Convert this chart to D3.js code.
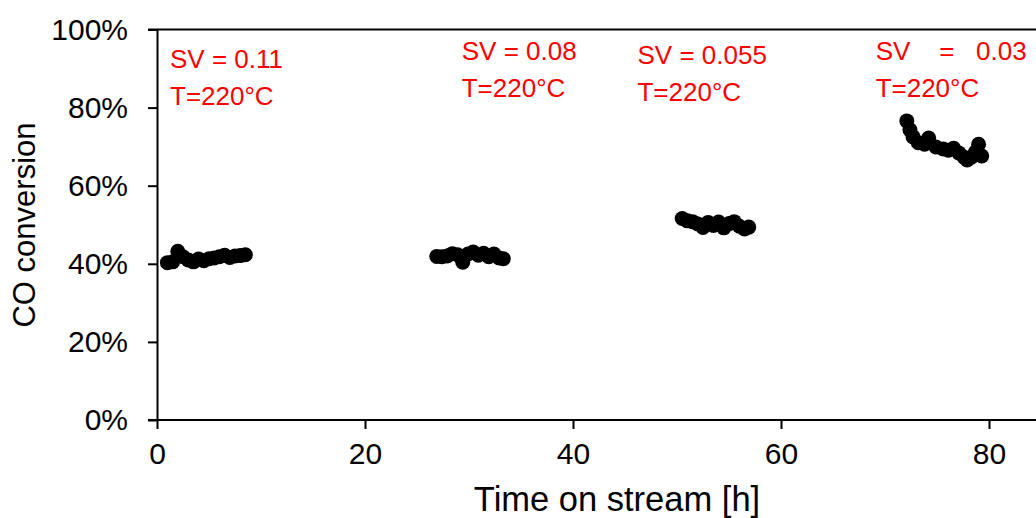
<!DOCTYPE html>
<html>
<head>
<meta charset="utf-8">
<script src="https://cdnjs.cloudflare.com/ajax/libs/d3/7.8.5/d3.min.js"></script>
<style>
  body { margin: 0; background: #fff; }
  svg { display: block; font-family: "Liberation Sans", Arial, sans-serif; }
</style>
</head>
<body>
<div class="chart"></div>
<script>
// data (hours, CO conversion %)
var hours1 = [1.0, 1.5, 2.0, 2.5, 3.0, 3.5, 4.0, 4.5, 5.0, 5.5, 6.0, 6.5, 7.0, 7.5, 8.0, 8.5];
var conv1  = [40.3, 40.5, 43.2, 41.8, 41.0, 40.5, 41.2, 40.8, 41.3, 41.5, 41.8, 42.2, 41.6, 42.0, 42.1, 42.3];

var hours2 = [26.9, 27.4, 27.9, 28.4, 28.9, 29.4, 29.9, 30.4, 30.9, 31.4, 31.9, 32.4, 32.9, 33.3];
var conv2  = [41.9, 41.8, 42.0, 42.6, 42.3, 40.4, 42.5, 43.0, 42.2, 42.7, 41.8, 42.5, 41.5, 41.3];

var hours3 = [50.5, 51.0, 51.5, 52.0, 52.5, 53.0, 53.5, 54.0, 54.5, 55.0, 55.5, 56.0, 56.5, 56.9];
var conv3  = [51.6, 51.0, 50.8, 50.2, 49.3, 50.6, 49.8, 50.7, 49.2, 50.3, 50.8, 49.6, 48.9, 49.4];

var hours4 = [72.1, 72.4, 72.7, 73.2, 73.8, 74.2, 74.9, 75.6, 76.1, 76.6, 77.1, 77.6, 77.9, 78.3, 78.7, 79.0, 79.3];
var conv4  = [76.6, 74.3, 72.5, 71.0, 70.6, 72.2, 69.9, 69.4, 69.1, 69.6, 68.4, 67.3, 66.6, 67.3, 68.6, 70.6, 67.6];

var notes = [
  { x: 1.25, line1: "SV = 0.11",  dy: 0 },
  { x: 29.3, line1: "SV = 0.08",  dy: -8 },
  { x: 46.2, line1: "SV = 0.055", dy: -4 },
  { x: 69.1, line1: "SV    =   0.03", dy: -8 }
];
var note2 = "T=220\u00b0C";

var xTicks = [0, 20, 40, 60, 80];
var yTicks = [0, 20, 40, 60, 80, 100];

var svgWidth = 1036;
var svgHeight = 518;
var margin = { top: 29.5, left: 157, bottom: 98 };
var height = svgHeight - margin.top - margin.bottom;

var svg = d3.select(".chart")
  .append("svg")
  .attr("width", svgWidth)
  .attr("height", svgHeight);

var xScale = d3.scaleLinear().domain([0, 86]).range([margin.left, margin.left + 86 * 10.4]);
var yScale = d3.scaleLinear().domain([0, 100]).range([margin.top + height, margin.top]);

// top border
svg.append("line")
  .attr("x1", margin.left - 9).attr("x2", xScale(86))
  .attr("y1", yScale(100)).attr("y2", yScale(100))
  .attr("stroke", "black").attr("stroke-width", 2);

var xAxis = svg.append("g")
  .attr("transform", `translate(0, ${yScale(0)})`)
  .call(d3.axisBottom(xScale).tickValues(xTicks).tickSize(9).tickPadding(14).tickSizeOuter(0));

var yAxis = svg.append("g")
  .attr("transform", `translate(${margin.left}, 0)`)
  .call(d3.axisLeft(yScale).tickValues(yTicks).tickFormat(d => d + "%").tickSize(9).tickPadding(20).tickSizeOuter(0));

[xAxis, yAxis].forEach(function(g) {
  g.select(".domain").attr("stroke-width", 2);
  g.selectAll(".tick line").attr("stroke-width", 2);
  g.selectAll("text").style("font-size", "30px").attr("fill", "black").style("font-family", "Liberation Sans, Arial, sans-serif");
});
// x axis line starts at the y tick end
xAxis.select(".domain").attr("d", `M${margin.left - 9},0H${xScale(86)}`);

var groups = [[hours1, conv1], [hours2, conv2], [hours3, conv3], [hours4, conv4]];
groups.forEach(function(g) {
  var pts = g[0].map((h, i) => ({ h: h, c: g[1][i] }));
  svg.append("g").selectAll("circle")
    .data(pts)
    .enter()
    .append("circle")
    .attr("cx", d => xScale(d.h))
    .attr("cy", d => yScale(d.c))
    .attr("r", 7.5)
    .attr("fill", "black");
});

// annotations
notes.forEach(function(n) {
  svg.append("text")
    .attr("x", xScale(n.x))
    .attr("y", 68 + n.dy)
    .attr("fill", "red")
    .style("font-size", "26px")
    .style("white-space", "pre")
    .attr("xml:space", "preserve")
    .text(n.line1);
  svg.append("text")
    .attr("x", xScale(n.x))
    .attr("y", 105 + n.dy)
    .attr("fill", "red")
    .style("font-size", "26px")
    .text(note2);
});

// axis titles
svg.append("text")
  .attr("transform", `translate(35, 225) rotate(-90)`)
  .style("text-anchor", "middle")
  .style("font-size", "31px")
  .text("CO conversion");

svg.append("text")
  .attr("x", 617)
  .attr("y", 511)
  .style("text-anchor", "middle")
  .style("font-size", "34.5px")
  .text("Time on stream [h]");
</script>
</body>
</html>
